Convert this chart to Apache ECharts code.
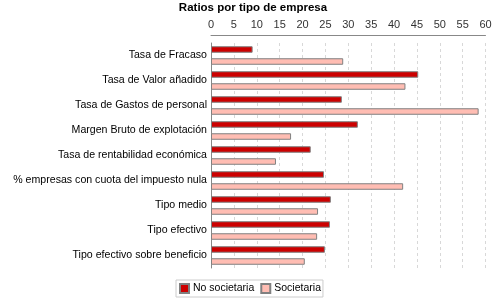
<!DOCTYPE html>
<html>
<head>
<meta charset="utf-8">
<script src="https://cdn.jsdelivr.net/npm/echarts@6/dist/echarts.min.js"></script>
<style>
html, body { margin: 0; padding: 0; background: #fff; }
#chart { width: 500px; height: 300px; }
</style>
</head>
<body>
<div id="chart"></div>
<script>
// categorias del eje vertical
var categorias = [
    'Tasa de Fracaso',
    'Tasa de Valor añadido',
    'Tasa de Gastos de personal',
    'Margen Bruto de explotación',
    'Tasa de rentabilidad económica',
    '% empresas con cuota del impuesto nula',
    'Tipo medio',
    'Tipo efectivo',
    'Tipo efectivo sobre beneficio'
];
var noSocietaria = [9.1, 45.3, 28.6, 32.1, 21.8, 24.7, 26.2, 26.0, 24.9];
var societaria = [28.9, 42.5, 58.5, 17.5, 14.2, 42.0, 23.4, 23.2, 20.5];

var chart = echarts.init(document.getElementById('chart'));
var fuente = 'Liberation Sans';
chart.setOption({
    animation: false,
    title: {
        text: 'Ratios por tipo de empresa',
        left: 253,
        textAlign: 'center',
        top: 2,
        padding: 0,
        textStyle: { fontFamily: fuente, fontSize: 11.5, fontWeight: 'bold', color: '#000' }
    },
    legend: {
        data: ['No societaria', 'Societaria'],
        top: 280,
        left: 176,
        itemWidth: 9,
        itemHeight: 9,
        itemGap: 6,
        padding: [3, 2, 3, 3],
        borderColor: '#cccccc',
        borderWidth: 1,
        icon: 'rect',
        textStyle: { fontFamily: fuente, fontSize: 10.5, color: '#000', padding: [0, 0, 0, -1] }
    },
    grid: {
        left: 211,
        right: 14.5,
        top: 43,
        bottom: 32
    },
    xAxis: {
        type: 'value',
        position: 'top',
        offset: 8,
        min: 0,
        max: 60,
        interval: 5,
        axisLine: { show: true, lineStyle: { color: '#888' } },
        axisTick: { show: false },
        axisLabel: { fontFamily: fuente, fontSize: 11, color: '#333', margin: 5 },
        splitLine: { show: true, lineStyle: { color: '#d8d8d8', type: [3, 3] } }
    },
    yAxis: {
        type: 'category',
        inverse: true,
        data: categorias,
        axisLine: { show: true, lineStyle: { color: '#888' } },
        axisTick: { show: false },
        axisLabel: { fontFamily: fuente, fontSize: 10.6, color: '#000', margin: 4 }
    },
    series: [
        {
            name: 'No societaria',
            type: 'bar',
            data: noSocietaria,
            barWidth: 6.5,
            barGap: '85%',
            itemStyle: { color: '#cc0000', borderColor: '#808080', borderWidth: 1 }
        },
        {
            name: 'Societaria',
            type: 'bar',
            data: societaria,
            barWidth: 6.5,
            itemStyle: { color: '#ffbdb3', borderColor: '#808080', borderWidth: 1 }
        }
    ]
});
</script>
</body>
</html>
